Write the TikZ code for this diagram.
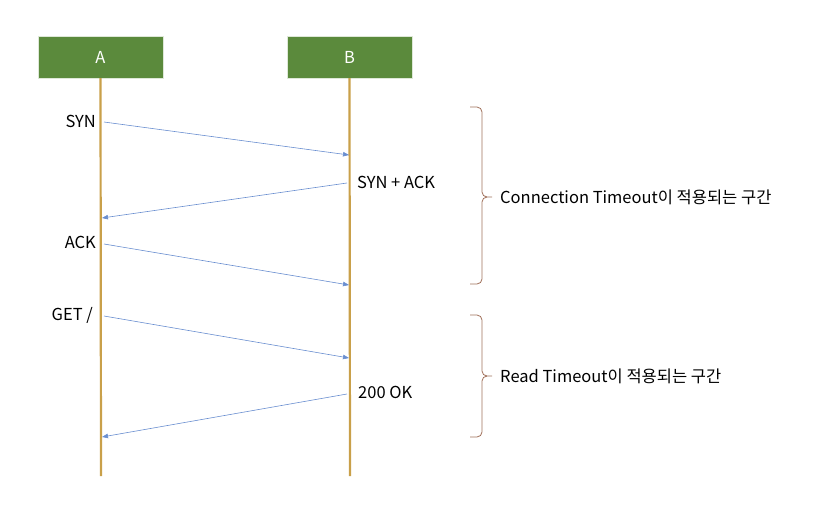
\documentclass[tikz,border=0pt]{standalone}
\usepackage{fontspec}
\setmainfont{Noto Sans CJK KR}
\usetikzlibrary{arrows.meta}
\definecolor{boxgreen}{HTML}{5B8A3C}
\definecolor{life}{HTML}{C9A04A}
\definecolor{msg}{HTML}{4472C4}
\definecolor{brace}{HTML}{A0705A}
\begin{document}
\begin{tikzpicture}[x=1pt,y=-1pt,
  actor/.style={fill=boxgreen,draw=white!80!boxgreen,minimum width=125pt,minimum height=42pt,inner sep=0pt,text=white,font=\fontsize{16.5}{18}\selectfont},
  lifeline/.style={draw=life,line width=2.2pt},
  message/.style={draw=msg!80,line width=0.6pt,-{Triangle[length=6pt,width=4.5pt]}},
  lbl/.style={font=\fontsize{16.5}{18}\selectfont,inner sep=0pt},
  bracepath/.style={draw=brace,line width=0.8pt}]
\useasboundingbox (0,0) rectangle (815,512);
\node[actor] (A) at (100.5,57) {A};
\node[actor] (B) at (349.5,57) {B};
\coordinate (Aend) at (101,476);
\coordinate (Bend) at (350,476);
\draw[lifeline] (A.south) -- (Aend);
\draw[lifeline] (B.south) -- (Bend);
% message points
\coordinate (m1s) at (104,122); \coordinate (m1e) at (349,155);
\coordinate (m2s) at (347,183); \coordinate (m2e) at (102,218);
\coordinate (m3s) at (104,244); \coordinate (m3e) at (349,285);
\coordinate (m4s) at (104,316); \coordinate (m4e) at (349,358);
\coordinate (m5s) at (347,394); \coordinate (m5e) at (102,437);
\draw[message] (m1s) -- (m1e);
\draw[message] (m2s) -- (m2e);
\draw[message] (m3s) -- (m3e);
\draw[message] (m4s) -- (m4e);
\draw[message] (m5s) -- (m5e);
\node[lbl,anchor=east] (l1) at (96,121) {SYN};
\node[lbl,anchor=west] (l2) at (357,182) {SYN + ACK};
\node[lbl,anchor=east] (l3) at (96,242) {ACK};
\node[lbl,anchor=east] (l4) at (93,315) {GET /};
\node[lbl,anchor=west] (l5) at (358,392) {200 OK};
% braces
\draw[bracepath] (470,107) -- (477,107) arc[start angle=-90,end angle=0,radius=5] -- (482,192) arc[start angle=180,end angle=90,radius=5] -- (492,197);
\draw[bracepath] (470,284) -- (477,284) arc[start angle=90,end angle=0,radius=5] -- (482,202) arc[start angle=180,end angle=270,radius=5];
\node[lbl,anchor=west] (t1) at (500,197) {Connection Timeout이 적용되는 구간};
\draw[bracepath] (470,315) -- (477,315) arc[start angle=-90,end angle=0,radius=5] -- (482,371) arc[start angle=180,end angle=90,radius=5] -- (492,376);
\draw[bracepath] (470,437) -- (477,437) arc[start angle=90,end angle=0,radius=5] -- (482,381) arc[start angle=180,end angle=270,radius=5];
\node[lbl,anchor=west] (t2) at (500,376) {Read Timeout이 적용되는 구간};
\end{tikzpicture}
\end{document}
